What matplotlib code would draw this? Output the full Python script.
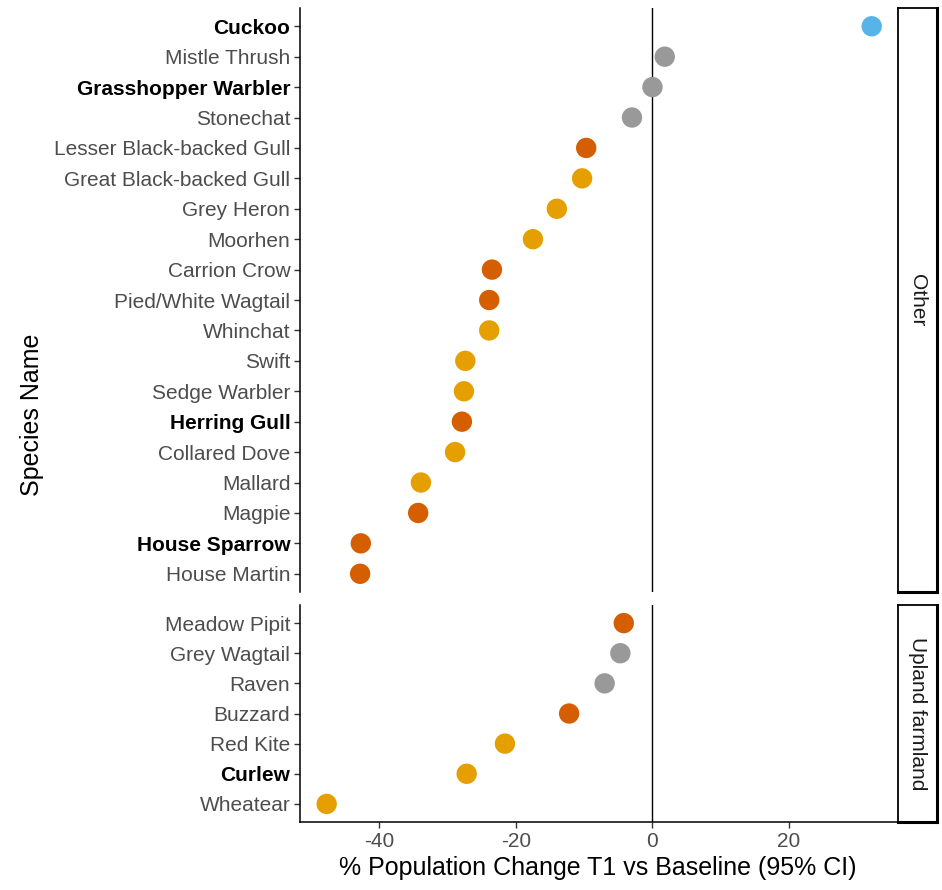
import matplotlib.pyplot as plt
import numpy as np

plt.rcParams['font.family'] = ['Liberation Sans', 'DejaVu Sans']

# species per habitat panel, top to bottom
other_species = ["Cuckoo", "Mistle Thrush", "Grasshopper Warbler", "Stonechat",
                 "Lesser Black-backed Gull", "Great Black-backed Gull", "Grey Heron",
                 "Moorhen", "Carrion Crow", "Pied/White Wagtail", "Whinchat", "Swift",
                 "Sedge Warbler", "Herring Gull", "Collared Dove", "Mallard", "Magpie",
                 "House Sparrow", "House Martin"]
other_change = [32.1, 1.8, 0.0, -3.0, -9.7, -10.3, -14.0, -17.5, -23.5, -23.9, -23.9,
                -27.4, -27.6, -27.9, -28.9, -33.9, -34.3, -42.7, -42.8]
other_status = ["blue", "grey", "grey", "grey", "red", "amber", "amber", "amber", "red",
                "red", "amber", "amber", "amber", "red", "amber", "amber", "red", "red", "red"]

upland_species = ["Meadow Pipit", "Grey Wagtail", "Raven", "Buzzard", "Red Kite",
                  "Curlew", "Wheatear"]
upland_change = [-4.2, -4.7, -7.0, -12.2, -21.6, -27.2, -47.7]
upland_status = ["red", "grey", "grey", "red", "amber", "amber", "amber"]

bold_species = ["Cuckoo", "Grasshopper Warbler", "Herring Gull", "House Sparrow", "Curlew"]

palette = {"blue": "#56B4E9", "grey": "#999999", "amber": "#E69F00", "red": "#D55E00"}

fig = plt.figure(figsize=(9.42, 8.9), dpi=100)
ax1 = fig.add_axes([0.3185, 0.3348, 0.6337, 0.6562])
ax2 = fig.add_axes([0.3185, 0.0764, 0.6337, 0.2438])

xlim = (-51.6, 35.8)
panels = [(ax1, other_species, other_change, other_status, "Other"),
          (ax2, upland_species, upland_change, upland_status, "Upland farmland")]

for ax, names, vals, stat, label in panels:
    n = len(names)
    y = np.arange(n)[::-1]
    ax.axvline(0, color="black", lw=1.0, zorder=1)
    ax.scatter(vals, y, s=215, c=[palette[s] for s in stat], edgecolors="none", zorder=3)
    ax.set_xlim(*xlim)
    ax.set_ylim(-0.6, n - 1 + 0.6)
    ax.set_yticks(y)
    ax.set_yticklabels(names, fontsize=15)
    for t in ax.get_yticklabels():
        if t.get_text() in bold_species:
            t.set_fontweight("bold")
            t.set_color("black")
        else:
            t.set_color("#4D4D4D")
    for side in ["top", "right"]:
        ax.spines[side].set_visible(False)
    ax.spines["left"].set_linewidth(1.1)
    ax.spines["bottom"].set_linewidth(1.1)
    ax.tick_params(axis="both", length=4, width=1, color="#333333", pad=3)

    # facet strip on the right
    pos = ax.get_position()
    strip = fig.add_axes([pos.x1 + 0.0012, pos.y0, 0.0415, pos.height])
    strip.set_xticks([])
    strip.set_yticks([])
    for sp in strip.spines.values():
        sp.set_linewidth(1.3)
    strip.spines["right"].set_linewidth(2.2)
    strip.spines["bottom"].set_linewidth(2.2)
    strip.text(0.5, 0.5, label, rotation=-90, ha="center", va="center",
               fontsize=15, color="#1A1A1A", transform=strip.transAxes)

ax1.spines["bottom"].set_visible(False)
ax1.tick_params(axis="x", bottom=False, labelbottom=False)
ax2.set_xticks([-40, -20, 0, 20])
ax2.set_xticklabels(["-40", "-20", "0", "20"], fontsize=15, color="#4D4D4D")

fig.text(0.635, 0.0247, "% Population Change T1 vs Baseline (95% CI)",
         ha="center", va="center", fontsize=18)
fig.text(0.034, 0.534, "Species Name", rotation=90, ha="center", va="center", fontsize=18)

fig.savefig("out.png", dpi=100)
plt.close(fig)
